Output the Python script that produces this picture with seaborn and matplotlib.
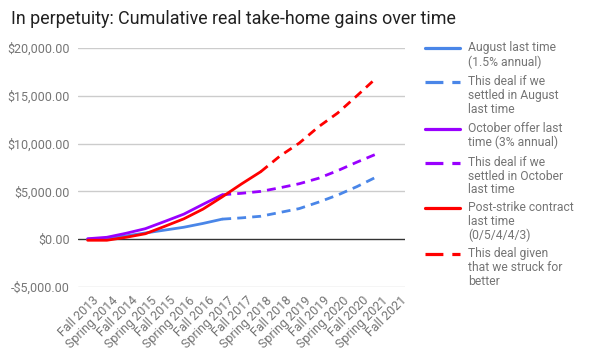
import numpy as np
import pandas as pd
import matplotlib
matplotlib.use("Agg")
import matplotlib.pyplot as plt
import matplotlib.transforms as mtrans
from matplotlib.lines import Line2D
import seaborn as sns

categories = ["Fall 2013", "Spring 2014", "Fall 2014", "Spring 2015", "Fall 2015",
              "Spring 2016", "Fall 2016", "Spring 2017", "Fall 2017", "Spring 2018",
              "Fall 2018", "Spring 2019", "Fall 2019", "Spring 2020", "Fall 2020",
              "Spring 2021", "Fall 2021"]
nan = np.nan
august_last = [0, 100, 350, 650, 950, 1250, 1650, 2100] + [nan] * 9
august_deal = [nan] * 7 + [2100, 2230, 2400, 2800, 3200, 3870, 4620, 5500, 6500, nan]
october_last = [50, 200, 620, 1100, 1850, 2620, 3650, 4650] + [nan] * 9
october_deal = [nan] * 7 + [4650, 4800, 5000, 5380, 5800, 6370, 7170, 8060, 8900, nan]
strike_last = [-110, -110, 200, 570, 1340, 2130, 3150, 4430, 5780, 7060] + [nan] * 7
strike_deal = [nan] * 9 + [7060, 8700, 10050, 11750, 13200, 15000, 16850, nan]
yticks = [-5000, 0, 5000, 10000, 15000, 20000]

series_names = [
    "August last time\n(1.5% annual)",
    "This deal if we\nsettled in August\nlast time",
    "October offer last\ntime (3% annual)",
    "This deal if we\nsettled in October\nlast time",
    "Post-strike contract\nlast time\n(0/5/4/4/3)",
    "This deal given\nthat we struck for\nbetter",
]
series_values = [august_last, august_deal, october_last, october_deal, strike_last, strike_deal]
colors = ["#4a86e8", "#4a86e8", "#9900ff", "#9900ff", "#ff0000", "#ff0000"]
dashed = [False, True, False, True, False, True]

rows = []
for name, vals in zip(series_names, series_values):
    for i, v in enumerate(vals):
        rows.append({"idx": i, "value": v, "series": name})
df = pd.DataFrame(rows).dropna()

sns.set_theme(style="white")
plt.rcParams["font.family"] = ["Roboto", "DejaVu Sans"]

fig = plt.figure(figsize=(5.9, 3.6), dpi=100)
ax = fig.add_axes([78 / 590, 1 - 287 / 360, (405 - 78) / 590, (287 - 48) / 360])

palette = dict(zip(series_names, colors))
dash_map = {n: ((3.2, 2.2) if d else "") for n, d in zip(series_names, dashed)}
sns.lineplot(data=df, x="idx", y="value", hue="series", style="series",
             palette=palette, dashes=dash_map, hue_order=series_names,
             style_order=series_names, linewidth=2.0, legend=False, ax=ax,
             estimator=None, sort=False)

ax.set_xlim(-0.5, len(categories) - 0.5)
ax.set_ylim(-5000, 20000)
ax.set_yticks(yticks)
ax.set_yticklabels([("-$" if t < 0 else "$") + f"{abs(t):,.2f}" for t in yticks])
ax.set_xticks(range(len(categories)))
ax.set_xticklabels(categories, rotation=45, ha="right", va="top", rotation_mode="anchor")
ax.tick_params(axis="both", length=0, labelsize=9, labelcolor="#757575")
ax.tick_params(axis="y", pad=6)
ax.tick_params(axis="x", pad=5)
offset = mtrans.ScaledTranslation(5 / 100, 0, fig.dpi_scale_trans)
for lbl in ax.get_xticklabels():
    lbl.set_transform(lbl.get_transform() + offset)
ax.set_xlabel("")
ax.set_ylabel("")
for s in ax.spines.values():
    s.set_visible(False)
for t in yticks:
    if t == 0:
        continue
    ax.axhline(t, color="#cccccc", lw=1, zorder=0)
ax.axhline(0, color="#333333", lw=1, zorder=1)

fig.text(11 / 590, 1 - 18.5 / 360, "In perpetuity: Cumulative real take-home gains over time",
         fontsize=12.9, color="#212121", va="center", ha="left")

# legend
leg_y = [48.3, 82.3, 128.7, 162.7, 208.3, 254.0]
for name, c, d, y in zip(series_names, colors, dashed, leg_y):
    yf = 1 - y / 360
    ln = Line2D([425 / 590, 460 / 590], [yf, yf], transform=fig.transFigure,
                color=c, lw=2.3, linestyle=(0, (5.6, 2.8)) if d else "-")
    fig.add_artist(ln)
    fig.text(468 / 590, 1 - (y - 7) / 360, name, fontsize=8.7, color="#757575",
             va="top", ha="left", linespacing=1.08)

fig.savefig("out.png", dpi=100)
